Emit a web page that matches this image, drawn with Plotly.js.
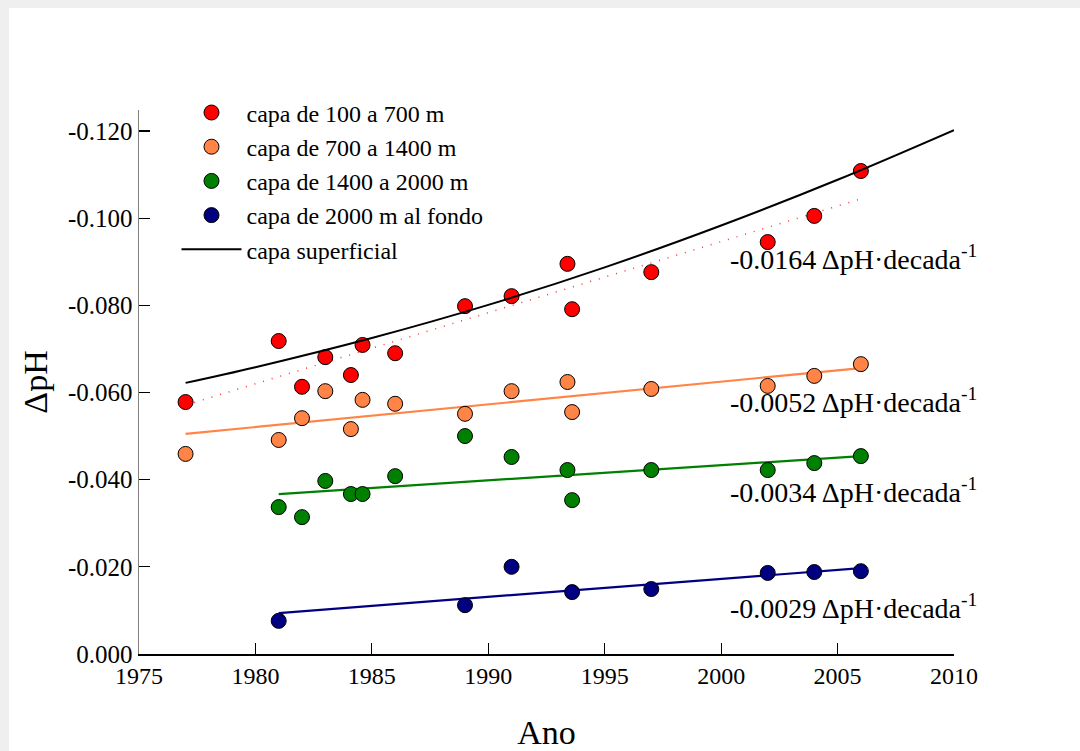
<!DOCTYPE html>
<html>
<head>
<meta charset="utf-8">
<script src="https://cdn.plot.ly/plotly-3.0.1.min.js"></script>
<style>
  html, body { margin: 0; padding: 0; background: #ffffff; }
  #chart { position: absolute; left: 0; top: 0; width: 1080px; height: 751px; }
  .strip-top { position: absolute; left: 0; top: 0; width: 1080px; height: 8px; background: #efefef; z-index: 2; }
  .strip-left { position: absolute; left: 0; top: 0; width: 9px; height: 751px; background: #efefef; z-index: 2; }
</style>
</head>
<body>
<div id="chart"></div>
<div class="strip-top"></div>
<div class="strip-left"></div>
<script>
// ---- data ----
const yearsA = [1977, 1981, 1982, 1983, 1984.1, 1984.6, 1986, 1989, 1991, 1993.4, 1993.6, 1997, 2002, 2004, 2006];
const capa100_700 = [-0.0578, -0.0718, -0.0613, -0.0681, -0.0640, -0.0709, -0.0690, -0.0798, -0.0821, -0.0895, -0.0791, -0.0876, -0.0945, -0.1005, -0.1108];
const capa700_1400 = [-0.0459, -0.0491, -0.0541, -0.0603, -0.0516, -0.0583, -0.0574, -0.0551, -0.0603, -0.0624, -0.0555, -0.0608, -0.0615, -0.0638, -0.0665];
const yearsG = [1981, 1982, 1983, 1984.1, 1984.6, 1986, 1989, 1991, 1993.4, 1993.6, 1997, 2002, 2004, 2006];
const capa1400_2000 = [-0.0337, -0.0314, -0.0397, -0.0367, -0.0367, -0.0408, -0.0500, -0.0452, -0.0422, -0.0353, -0.0422, -0.0422, -0.0438, -0.0454];
const yearsB = [1981, 1989, 1991, 1993.6, 1997, 2002, 2004, 2006];
const capa2000_fondo = [-0.0076, -0.0112, -0.0200, -0.0142, -0.0149, -0.0186, -0.0188, -0.0190];

// trend lines (end points)
const trendRedX = [1977, 2006];
const trendRedY = [-0.0571, -0.1044];
const trendOrangeX = [1977, 2006];
const trendOrangeY = [-0.0505, -0.0656];
const trendGreenX = [1981, 2006];
const trendGreenY = [-0.0367, -0.0454];
const trendBlueX = [1981, 2006];
const trendBlueY = [-0.0094, -0.0197];

// surface layer curve
const surfX = [1977, 1980, 1985, 1990, 1995, 2000, 2005, 2010];
const surfY = [-0.0622, -0.0658, -0.0725, -0.0801, -0.0887, -0.0983, -0.1088, -0.1202];

const names = ["capa de 100 a 700 m", "capa de 700 a 1400 m", "capa de 1400 a 2000 m", "capa de 2000 m al fondo", "capa superficial"];
const rates = ["-0.0164", "-0.0052", "-0.0034", "-0.0029"];
const xTicks = [1975, 1980, 1985, 1990, 1995, 2000, 2005, 2010];
const yTicks = [0, -0.02, -0.04, -0.06, -0.08, -0.10, -0.12];
const yTickText = ["0.000", "-0.020", "-0.040", "-0.060", "-0.080", "-0.100", "-0.120"];

const C_RED = "#ff0000", C_OR = "#ff8445", C_GR = "#008000", C_BL = "#000080";
const FONT = "'Liberation Serif', 'Times New Roman', serif";

function pts(x, y, name, color) {
  return {x: x, y: y, name: name, type: "scatter", mode: "markers",
    marker: {size: 15, color: color, line: {color: "#000", width: 1}}, cliponaxis: false};
}
function trend(x, y, color, dash, width) {
  return {x: x, y: y, type: "scatter", mode: "lines", showlegend: false,
    line: {color: color, width: width, dash: dash}};
}

const traces = [
  trend(trendRedX, trendRedY, "rgba(255,0,0,0.8)", "1px,8px", 1.5),
  trend(trendOrangeX, trendOrangeY, C_OR, "solid", 2.2),
  trend(trendGreenX, trendGreenY, C_GR, "solid", 2.2),
  trend(trendBlueX, trendBlueY, C_BL, "solid", 2.2),
  pts(yearsA, capa100_700, names[0], C_RED),
  pts(yearsA, capa700_1400, names[1], C_OR),
  pts(yearsG, capa1400_2000, names[2], C_GR),
  pts(yearsB, capa2000_fondo, names[3], C_BL),
  {x: surfX, y: surfY, name: names[4], type: "scatter", mode: "lines",
   line: {color: "#000", width: 2, shape: "spline"}}
];

const annY = [-0.0910, -0.0582, -0.0376, -0.0108];
const annotations = rates.map((r, i) => ({
  x: 2000.3, y: annY[i], xref: "x", yref: "y", xanchor: "left", yanchor: "middle",
  text: r + " ΔpH·decada<sup>-1</sup>", showarrow: false,
  font: {family: FONT, size: 28, color: "#000"}
}));

const layout = {
  width: 1080, height: 751,
  margin: {l: 139, r: 126, t: 110, b: 97},
  paper_bgcolor: "rgba(0,0,0,0)", plot_bgcolor: "rgba(0,0,0,0)",
  font: {family: FONT, color: "#000"},
  showlegend: true,
  legend: {x: 0.046, y: 1.036, xanchor: "left", yanchor: "top",
    font: {family: FONT, size: 24, color: "#000"}, bgcolor: "rgba(0,0,0,0)",
    borderwidth: 0, itemwidth: 60, traceorder: "normal"},
  xaxis: {range: [1975, 2010], tickvals: xTicks, ticktext: xTicks.map(String),
    ticks: "inside", ticklen: 11, tickcolor: "#000", tickwidth: 1.2,
    showline: true, linecolor: "#000", linewidth: 1.5, showgrid: false, zeroline: false,
    tickfont: {family: FONT, size: 24, color: "#000"},
    title: {text: "Ano", font: {family: FONT, size: 34, color: "#000"}, standoff: 34}},
  yaxis: {range: [0, -0.1248], tickvals: yTicks, ticktext: yTickText,
    ticks: "inside", ticklen: 11, tickcolor: "#000", tickwidth: 1.2,
    showline: true, linecolor: "#808080", linewidth: 1.5, showgrid: false, zeroline: false,
    tickfont: {family: FONT, size: 25, color: "#000"},
    title: {text: "ΔpH", font: {family: FONT, size: 34, color: "#000"}, standoff: 10}},
  annotations: annotations
};

Plotly.newPlot("chart", traces, layout, {staticPlot: true, displayModeBar: false});
</script>
</body>
</html>
